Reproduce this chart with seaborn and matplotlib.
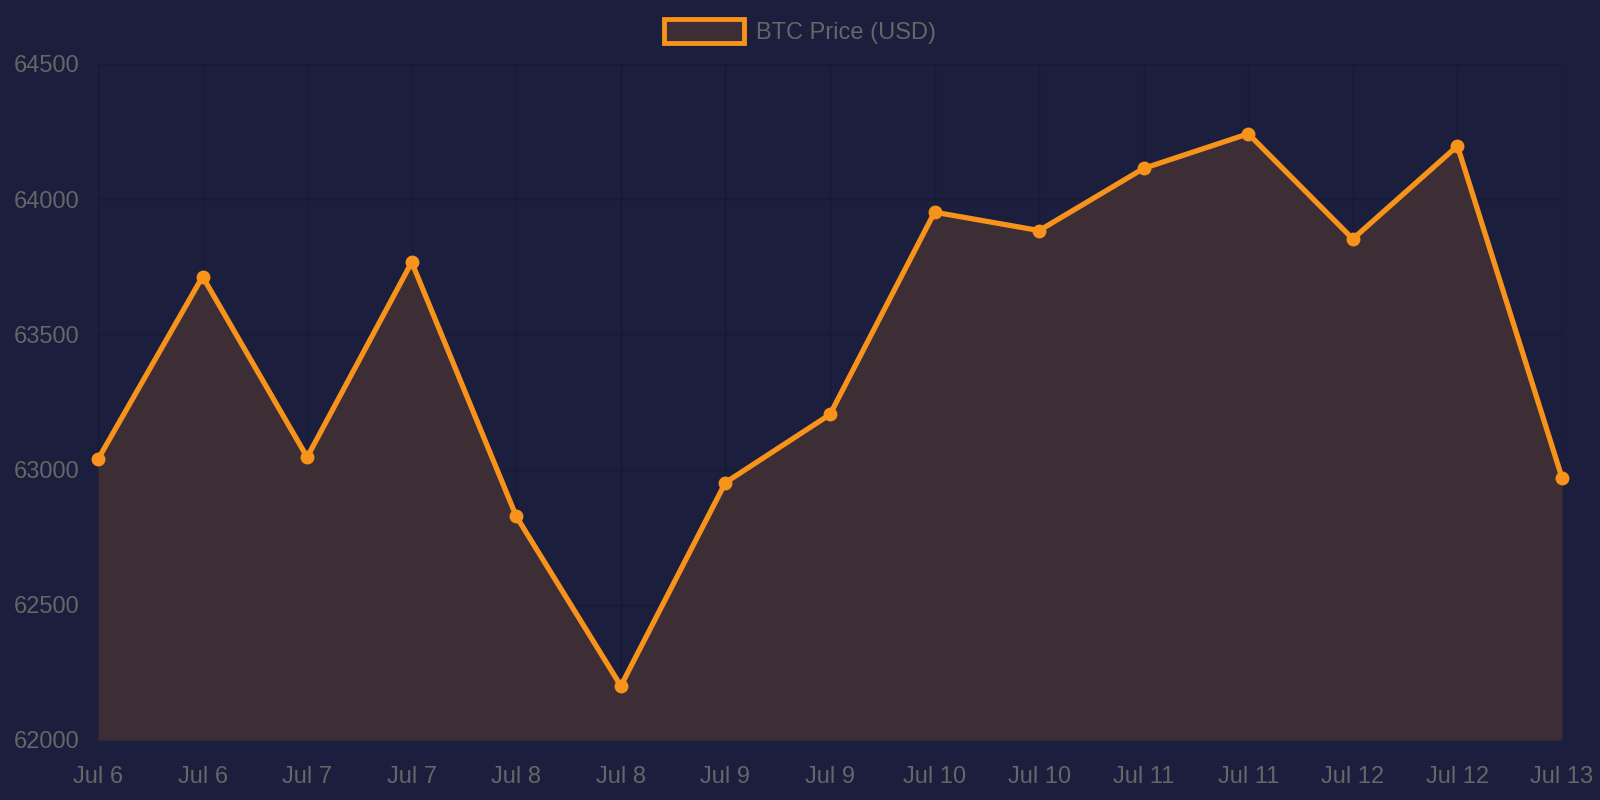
import pandas as pd
import numpy as np
import matplotlib
matplotlib.use("Agg")
import matplotlib.pyplot as plt
import seaborn as sns
from matplotlib.patches import Patch

# Data
labels = ["Jul 6", "Jul 6", "Jul 7", "Jul 7", "Jul 8", "Jul 8", "Jul 9", "Jul 9",
          "Jul 10", "Jul 10", "Jul 11", "Jul 11", "Jul 12", "Jul 12", "Jul 13"]
prices = [63038, 63714, 63046, 63767, 62827, 62200, 62952, 63204,
          63952, 63884, 64114, 64242, 63853, 64197, 62970]

bg = "#1b1e3c"
orange = "#f7931a"
fill = "#3d2e36"
text_col = "#666666"
grid_col = "#171a35"

df = pd.DataFrame({"idx": range(len(prices)), "price": prices})

sns.set_style("dark")
plt.rcParams["font.family"] = ["Liberation Sans", "DejaVu Sans"]

fig = plt.figure(figsize=(16, 8), dpi=100, facecolor=bg)
ax = fig.add_axes([0.06125, 0.075, 0.915, 0.845])
ax.set_facecolor(bg)

ax.fill_between(df["idx"], df["price"], 62000, color=fill, zorder=1, linewidth=0)
sns.lineplot(data=df, x="idx", y="price", ax=ax, color=orange, linewidth=3.8,
             marker="o", markersize=10, markeredgewidth=0, zorder=3, clip_on=False)

ax.set_xlim(0, len(prices) - 1)
ax.set_ylim(62000, 64500)
ax.set_xticks(df["idx"])
ax.set_xticklabels(labels)
ax.set_yticks(np.arange(62000, 64501, 500))
ax.set_xlabel("")
ax.set_ylabel("")

ax.grid(True, color=grid_col, linewidth=1, zorder=0)
ax.set_axisbelow(True)
for s in ax.spines.values():
    s.set_visible(False)
ax.tick_params(axis="both", colors=grid_col, labelcolor=text_col, labelsize=17,
               length=10, width=1)
ax.tick_params(axis="x", pad=9)
ax.tick_params(axis="y", pad=3)

handle = Patch(facecolor=fill, edgecolor=orange, linewidth=3.5)
fig.legend(handles=[handle], labels=["BTC Price (USD)"], loc="center",
           bbox_to_anchor=(0.5, 0.961), frameon=False, fontsize=17,
           labelcolor=text_col, handlelength=3.4, handleheight=1.2, handletextpad=0.5)

fig.savefig("out.png", dpi=100, facecolor=bg)
